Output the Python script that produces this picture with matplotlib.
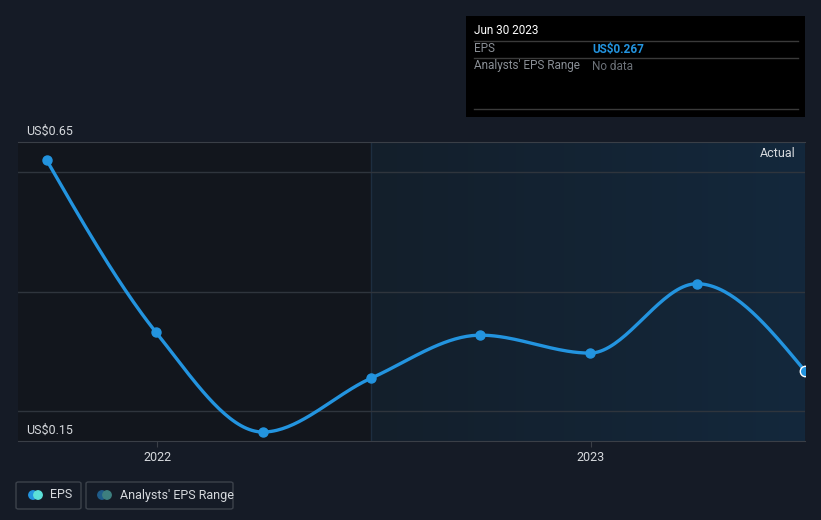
import numpy as np
import pandas as pd
import matplotlib
matplotlib.use("Agg")
import matplotlib.pyplot as plt
import matplotlib.dates as mdates
from matplotlib.patches import Rectangle, FancyBboxPatch, Circle

plt.rcParams['font.family'] = ['Roboto', 'DejaVu Sans']

# data
dates = pd.to_datetime(['2021-09-30', '2021-12-31', '2022-03-31', '2022-06-30',
                        '2022-09-30', '2022-12-31', '2023-03-31', '2023-06-30'])
eps = [0.620, 0.332, 0.165, 0.255, 0.327, 0.297, 0.413, 0.267]
y_ticks = [0.15, 0.65]
y_tick_labels = ['US$0.15', 'US$0.65']
grid_vals = [0.2, 0.4, 0.6]
x_ticks = pd.to_datetime(['2022-01-01', '2023-01-01'])
x_tick_labels = ['2022', '2023']
actual_start = pd.Timestamp('2022-06-30')

BG = '#151b26'
LINE = '#2394df'


def monotone_curve(x, y, n=40):
    # d3 style monotoneX cubic
    x = np.asarray(x, float)
    y = np.asarray(y, float)
    h = np.diff(x)
    s = np.diff(y) / h
    t = np.zeros_like(y)
    for i in range(1, len(x) - 1):
        p = (s[i - 1] * h[i] + s[i] * h[i - 1]) / (h[i - 1] + h[i])
        t[i] = (np.sign(s[i - 1]) + np.sign(s[i])) * min(abs(s[i - 1]), abs(s[i]), 0.5 * abs(p))
    t[0] = (3 * s[0] - t[1]) / 2
    t[-1] = (3 * s[-1] - t[-2]) / 2
    xs, ys = [], []
    for i in range(len(x) - 1):
        u = np.linspace(0, 1, n)
        h00 = 2 * u**3 - 3 * u**2 + 1
        h10 = u**3 - 2 * u**2 + u
        h01 = -2 * u**3 + 3 * u**2
        h11 = u**3 - u**2
        xs.append(x[i] + u * h[i])
        ys.append(h00 * y[i] + h10 * h[i] * t[i] + h01 * y[i + 1] + h11 * h[i] * t[i + 1])
    return np.concatenate(xs), np.concatenate(ys)


fig = plt.figure(figsize=(8.21, 5.20), dpi=100, facecolor=BG)
W, H = 821, 520
ax = fig.add_axes([18 / W, (H - 441) / H, (805 - 18) / W, (441 - 142) / H])
ax.set_facecolor('#12161d')

xnum = mdates.date2num(dates)
x0 = mdates.date2num(pd.Timestamp('2021-09-06'))
x1 = xnum[-1]
xa = mdates.date2num(actual_start)
ax.set_xlim(x0, x1)
ax.set_ylim(0.15, 0.65)

# actual region gradient
grad = np.linspace(0, 1, 256).reshape(1, -1)
cmap = matplotlib.colors.LinearSegmentedColormap.from_list('g', ['#141f2b', '#13283c'])
ax.imshow(grad, extent=[xa, x1, 0.15, 0.65], aspect='auto', cmap=cmap, zorder=0)
ax.axvline(xa, color='#1d2e40', lw=1, zorder=1)

for g in grid_vals:
    ax.axhline(g, color='#2f353d', lw=1, zorder=1)

cx, cy = monotone_curve(xnum, eps)
ax.plot(cx, cy, color=LINE, lw=2.4, zorder=3, solid_capstyle='round')
ax.plot(xnum[:-1], eps[:-1], 'o', color=LINE, ms=6.5, zorder=4)
ax.plot(xnum[-1], eps[-1], 'o', color=LINE, ms=7.5, mec='white', mew=1, zorder=5)

for sp in ['left', 'right']:
    ax.spines[sp].set_visible(False)
ax.spines['top'].set_color('#3a3f47')
ax.spines['bottom'].set_color('#3a3f47')
ax.set_yticks([])
ax.set_xticks(mdates.date2num(x_ticks))
ax.set_xticklabels(x_tick_labels, color='#d6d9dd', fontsize=9)
ax.tick_params(axis='x', length=4, color='#3a3f47', pad=3)

for v, lab in zip(y_ticks, y_tick_labels):
    ax.annotate(lab, xy=(0, v), xycoords=('axes fraction', 'data'), xytext=(6, 3),
                textcoords='offset points', color='#d6d9dd', fontsize=9, va='bottom', ha='left')

ax.text(0.988, 0.96, 'Actual', transform=ax.transAxes, color='#d6d9dd',
        fontsize=9, ha='right', va='center')

# tooltip
def fx(px):
    return px / W


def fy(py):
    return 1 - py / H


fig.patches.append(Rectangle((fx(466), fy(117)), fx(805 - 466), (117 - 16) / H,
                             transform=fig.transFigure, facecolor='black', edgecolor='none'))
for ly in [41, 58, 109]:
    fig.lines.append(plt.Line2D([fx(474), fx(798)], [fy(ly), fy(ly)], transform=fig.transFigure,
                                color='#3a3a3a', lw=1))
fig.text(fx(474), fy(31), 'Jun 30 2023', color='white', fontsize=8.5, va='center')
fig.text(fx(474), fy(49), 'EPS', color='#8a8f96', fontsize=8.5, va='center')
fig.text(fx(592), fy(49), 'US$0.267', color=LINE, fontsize=8.5, va='center', fontweight='bold')
fig.text(fx(474), fy(66), "Analysts' EPS Range", color='#8a8f96', fontsize=8.5, va='center')
fig.text(fx(592), fy(66), 'No data', color='#6c7178', fontsize=8.5, va='center')

# legend
for (l, r) in [(16, 81), (86, 233)]:
    fig.patches.append(FancyBboxPatch((fx(l), fy(509)), fx(r - l), (509 - 482) / H,
                                      boxstyle='round,pad=0,rounding_size=0.003',
                                      transform=fig.transFigure, facecolor='none',
                                      edgecolor='#3c424b', lw=1))
ax_leg = fig.add_axes([0, 0, 1, 1], facecolor='none')
ax_leg.set_xlim(0, W)
ax_leg.set_ylim(H, 0)
ax_leg.axis('off')
ax_leg.add_patch(Circle((33, 495), 4.2, color='#2394df'))
ax_leg.add_patch(Circle((38, 495), 4.2, color='#5ce0d8'))
ax_leg.add_patch(Circle((102, 495), 4.2, color='#1f5c8a'))
ax_leg.add_patch(Circle((107, 495), 4.2, color='#3d7f7f'))
ax_leg.set_aspect('equal')
fig.text(fx(50), fy(495), 'EPS', color='#d6d9dd', fontsize=9, va='center')
fig.text(fx(120), fy(495), "Analysts' EPS Range", color='#d6d9dd', fontsize=9, va='center')

fig.savefig('out.png', dpi=100, facecolor=BG)
